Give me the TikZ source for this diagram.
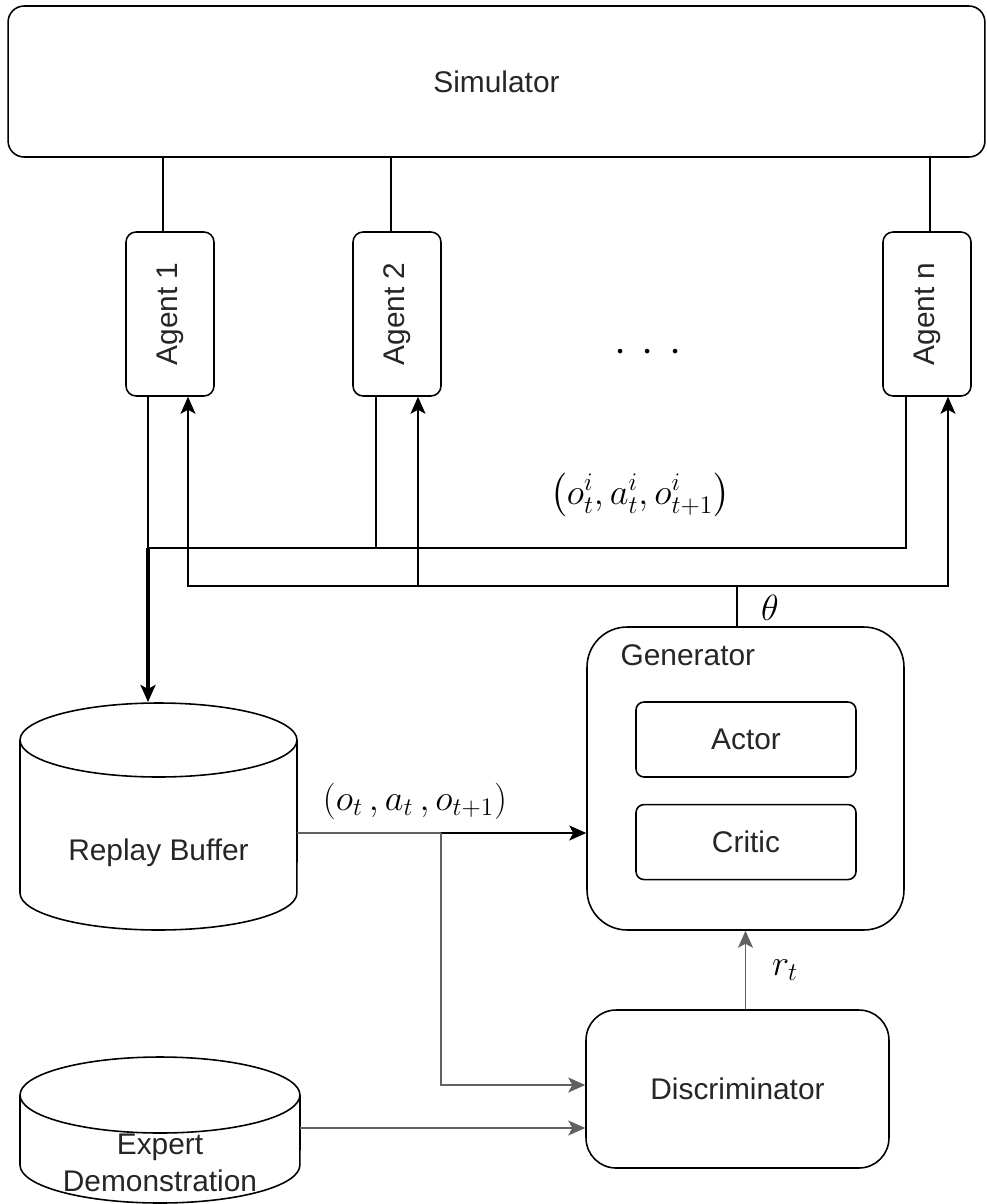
\documentclass[tikz,border=0pt]{standalone}
\usepackage{amsmath}
\usepackage{xcolor}
\usepackage{fontspec}
\usepackage{tikz}
\usetikzlibrary{arrows.meta}
\usetikzlibrary{positioning}
\newfontfamily\diagfont{Liberation Sans}
\definecolor{wire}{gray}{0.38}

\begin{document}
\begin{tikzpicture}[x=0.02cm, y=-0.02cm, line width=0.9pt,
	main/.style = {draw, rounded corners=0.2cm, font=\diagfont\fontsize{17}{21}\selectfont, text=black!85},
	agent/.style = {main, minimum width=1.76cm, minimum height=3.28cm},
	inner/.style = {main, rounded corners=0.16cm, minimum width=4.4cm, minimum height=1.5cm},
	db/.style = {font=\diagfont\fontsize{17}{21}\selectfont, text=black!85, align=center},
	lbl/.style = {font=\fontsize{22}{26}\selectfont},
	arr/.style = {-{Stealth[length=0.34cm, width=0.3cm, inset=0.08cm]}}]
		\useasboundingbox (0,0) rectangle (987,1204);
		
		\node[main, rounded corners=0.32cm, minimum width=19.54cm, minimum height=3.02cm] (sim) at (496.5,81.5) {Simulator};
		\node[agent] (a1) at (170,314) {\rotatebox{90}{Agent 1}};
		\node[agent] (a2) at (397,314) {\rotatebox{90}{Agent 2}};
		\node[agent] (an) at (927,314) {\rotatebox{90}{Agent n}};
		\node[font=\fontsize{24}{24}\selectfont] (dots) at (648,353) {$\cdot$\hspace{0.3cm}$\cdot$\hspace{0.3cm}$\cdot$};
		
		\node[main, rounded corners=0.8cm, minimum width=6.34cm, minimum height=6.06cm] (gen) at (745.5,778.5) {};
		\node[db, anchor=west] (genlbl) at (614,655) {Generator};
		\node[inner] (actor) at (746,739.5) {Actor};
		\node[inner, below=0.52cm of actor] (critic) {Critic};
		\node[main, rounded corners=0.6cm, minimum width=6.06cm, minimum height=3.16cm] (disc) at (737.5,1089) {Discriminator};
		
		\node[db, minimum width=5.54cm, minimum height=3.06cm] (rb) at (158.5,853) {Replay Buffer};
		\draw (20,740) -- (20,893) arc[start angle=180, end angle=360, x radius=2.77cm, y radius=0.74cm] -- (297,740);
		\draw (158.5,740) ellipse [x radius=2.77cm, y radius=0.74cm];
		\node[db] (exp) at (160,1163) {Expert\\Demonstration};
		\draw (20,1095) -- (20,1165) arc[start angle=180, end angle=360, x radius=2.8cm, y radius=0.76cm] -- (300,1095);
		\draw (160,1095) ellipse [x radius=2.8cm, y radius=0.76cm];
		
		\draw ([xshift=-0.14cm]a1.north) -- ([xshift=-0.14cm]a1.north |- sim.south);
		\draw ([xshift=-0.12cm]a2.north) -- ([xshift=-0.12cm]a2.north |- sim.south);
		\draw ([xshift=0.06cm]an.north) -- ([xshift=0.06cm]an.north |- sim.south);
		
		\coordinate (tap) at (148,548);
		\coordinate (rbin) at (148,702);
		\coordinate (a1out) at ([xshift=-0.44cm]a1.south);
		\coordinate (a2out) at ([xshift=-0.42cm]a2.south);
		\coordinate (anout) at ([xshift=-0.42cm]an.south);
		\draw (a1out) -- (tap);
		\draw (a2out) |- (tap);
		\draw (anout) |- (tap);
		\draw[arr, line width=1.8pt] (tap) -- (rbin);
		
		\coordinate (theta) at (737,586);
		\coordinate (a1in) at ([xshift=0.36cm]a1.south);
		\coordinate (a2in) at ([xshift=0.42cm]a2.south);
		\coordinate (anin) at ([xshift=0.42cm]an.south);
		\draw ([xshift=-0.17cm]gen.north) -- (theta);
		\draw[arr] (theta) -| (a1in);
		\draw[arr] (theta) -| (anin);
		\draw[arr] (a2in |- theta) -- (a2in);
		
		\coordinate (rbout) at (297,833);
		\coordinate (split) at (441,833);
		\coordinate (expout) at (300,1128);
		\draw[wire] (rbout) -- (split);
		\draw[arr] (split) -- (split -| gen.west);
		\draw[arr, wire] (split) |- ([yshift=0.08cm]disc.west);
		\draw[arr, wire] (expout) -- (expout -| disc.west);
		\draw[arr, wire] (disc.north -| gen.south) -- (gen.south);
		
		\begin{scope}[lbl]
			\node (obsi) at (640,495) {$\left(o_t^i, a_t^i, o_{t+1}^i\right)$};
			\node (thlbl) at (770,608) {$\theta$};
			\node (obs) at (415,801) {$(o_t\,, a_t\,, o_{t+1})$};
			\node (rlbl) at (785,970) {$r_t$};
		\end{scope}
	\end{tikzpicture}
\end{document}
